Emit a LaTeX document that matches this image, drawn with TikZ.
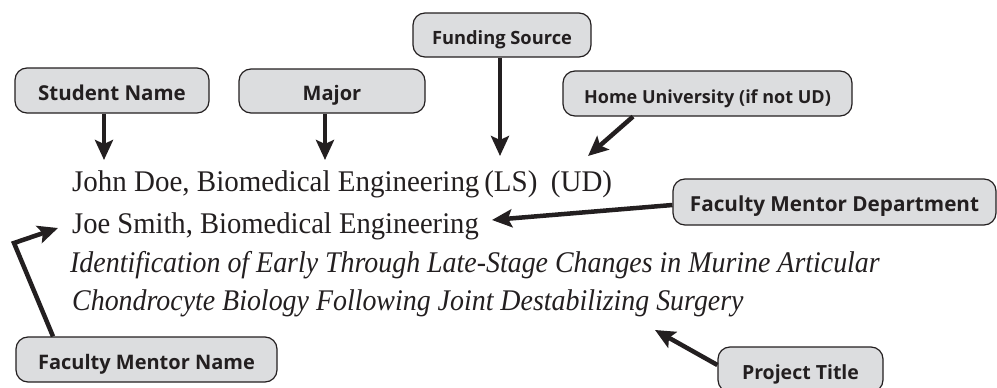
\documentclass[tikz,border=0pt]{standalone}
\usepackage{fontspec}
\setmainfont{Liberation Serif}
\newfontfamily\lblfont{Open Sans}
\usetikzlibrary{arrows.meta,calc}
\definecolor{ink}{HTML}{231F20}
\definecolor{boxfill}{HTML}{DCDDDF}
\tikzset{
  lbl/.style={draw=ink, fill=boxfill, line width=1.2pt, rounded corners=12pt,
    font=\lblfont\bfseries\fontsize{#1}{24}\selectfont, text=ink, inner sep=0pt,
    text height=19pt, text depth=0pt},
  lbl/.default=20,
  bigarrow/.style={draw=ink, line width=4.5pt,
    -{Stealth[length=20pt,width=18pt,inset=4pt]}},
  txt/.style={anchor=base west, inner sep=0pt, text=ink, font=\fontsize{30}{36}\selectfont}
}
\begin{document}
\begin{tikzpicture}[x=1pt,y=-1pt]
\useasboundingbox (0,0) rectangle (997,388);
% label boxes
\node[lbl=20.5, minimum width=194pt, minimum height=45pt] (sn) at (112,90.5) {Student Name};
\node[lbl=20, minimum width=186pt, minimum height=44pt] (mj) at (332,91) {Major};
\node[lbl=18.3, minimum width=178pt, minimum height=44pt] (fs) at (502,35) {Funding Source};
\node[lbl=18, minimum width=289pt, minimum height=45pt] (hu) at (707.5,93.5) {Home University (if not UD)};
\node[lbl=20.7, minimum width=323pt, minimum height=46pt] (fmd) at (834.5,202) {Faculty Mentor Department};
\node[lbl=20, minimum width=261pt, minimum height=45pt] (fmn) at (146.5,359.5) {Faculty Mentor Name};
\node[lbl=19.5, minimum width=165pt, minimum height=45pt] (pt) at (800.5,369.5) {Project Title};
% text lines
\node[txt] (l1) at (72,191) {\scalebox{0.966}[1]{John Doe, Biomedical Engineering\,(LS)\hspace{14pt}(UD)}};
\node[txt] (l2) at (72,233) {\scalebox{0.953}[1]{Joe Smith, Biomedical Engineering}};
\node[txt] (l3) at (70,272) {\scalebox{0.93}[1]{\itshape Identification of Early Through Late-Stage Changes in Murine Articular}};
\node[txt] (l4) at (72,310) {\scalebox{0.93}[1]{\itshape Chondrocyte Biology Following Joint Destabilizing Surgery}};
% arrow tips
\coordinate (t1) at (104,160);
\coordinate (t2) at (325,160);
\coordinate (t3) at (500,156);
\coordinate (t4) at (588,156);
\coordinate (t5) at (492,220);
\coordinate (e6) at (14,243);
\coordinate (t6) at (58,228);
\coordinate (t7) at (655,330);
% arrows
\draw[bigarrow] (sn.south -| t1) -- (t1);
\draw[bigarrow] (mj.south -| t2) -- (t2);
\draw[bigarrow] (fs.south -| t3) -- (t3);
\draw[bigarrow] ([xshift=-74.5pt]hu.south) -- (t4);
\draw[bigarrow] ([yshift=-3pt]fmd.west) -- (t5);
\draw[bigarrow] ([xshift=-93.5pt]fmn.north) -- (e6) -- (t6);
\draw[bigarrow] ([yshift=4.5pt]pt.west) -- (t7);
\end{tikzpicture}
\end{document}
